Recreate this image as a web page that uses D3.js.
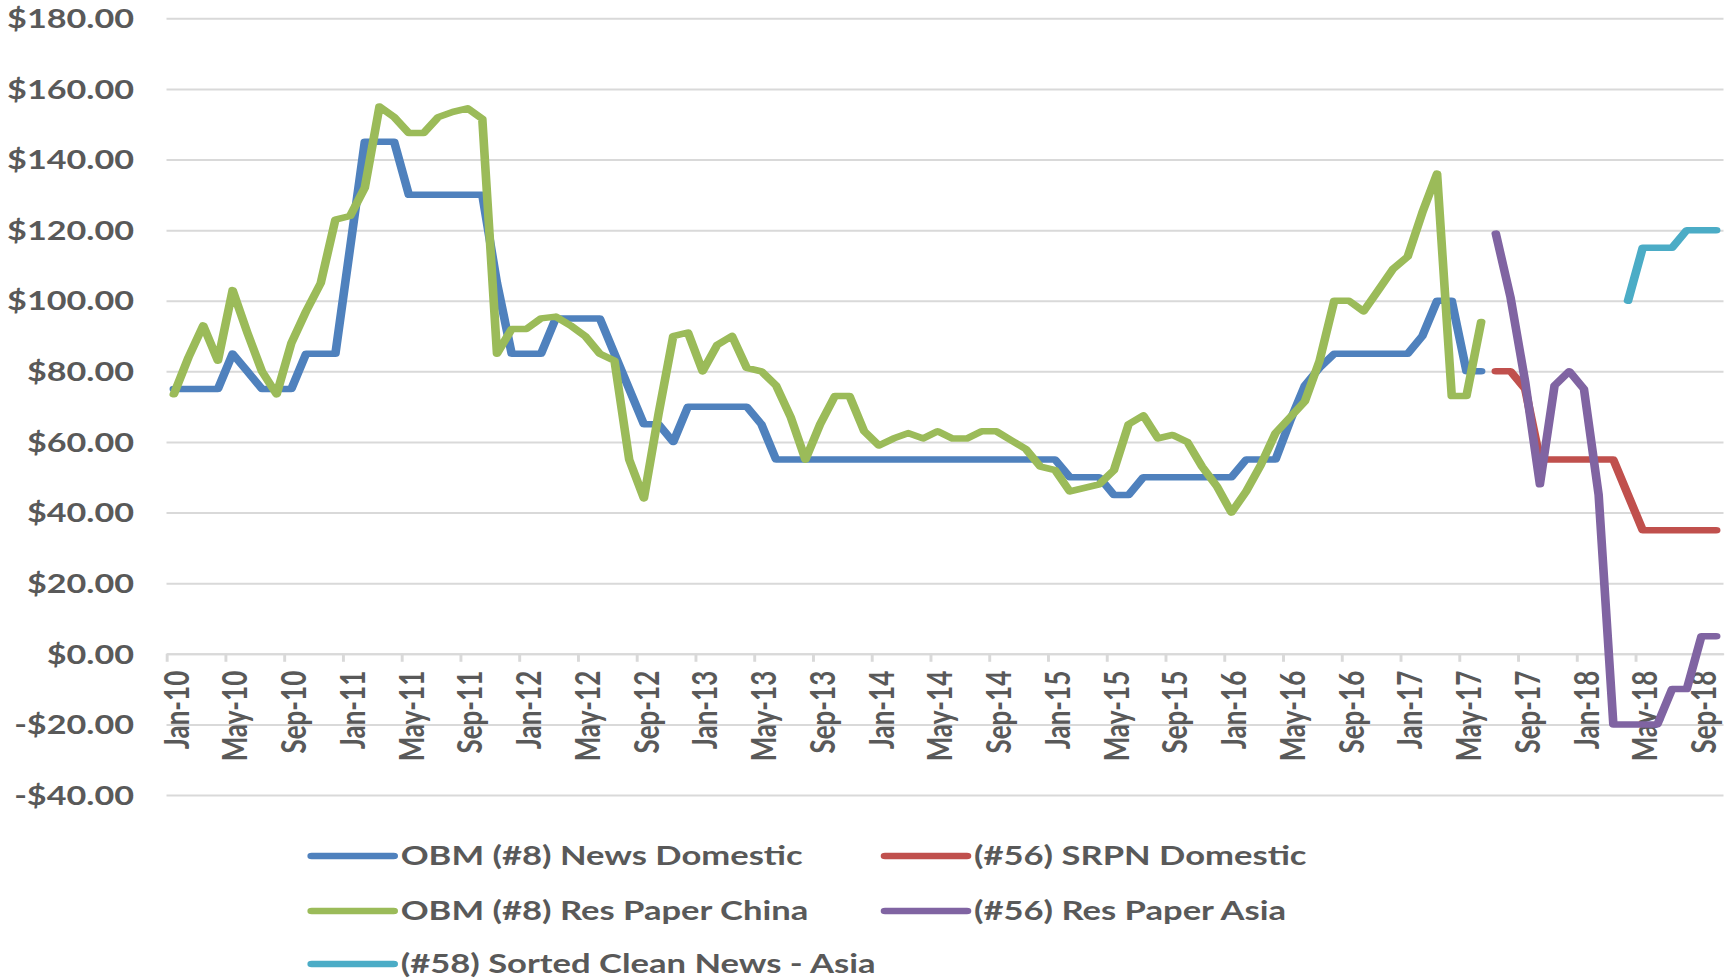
<!DOCTYPE html>
<html><head><meta charset="utf-8">
<script src="https://cdn.jsdelivr.net/npm/d3@7"></script>
<style>body{margin:0;background:#fff;} svg{display:block}</style>
</head><body>
<svg id="chart" width="1733" height="979"></svg>
<script>
// ---------- DATA ----------
const firstMonth = new Date(2010, 0, 1);
const axisEnd = new Date(2018, 10, 1);            // axis runs to Nov-18
const months = d3.timeMonth.range(firstMonth, axisEnd).map(d3.timeFormat("%b-%y"));

const tickLabels = ["Jan-10","May-10","Sep-10","Jan-11","May-11","Sep-11","Jan-12","May-12","Sep-12",
  "Jan-13","May-13","Sep-13","Jan-14","May-14","Sep-14","Jan-15","May-15","Sep-15",
  "Jan-16","May-16","Sep-16","Jan-17","May-17","Sep-17","Jan-18","May-18","Sep-18"];
const yTickValues = [180,160,140,120,100,80,60,40,20,0,-20,-40];

// OBM (#8) News Domestic, Jan-10 .. Jun-17
const obmNewsDomestic = [75,75,75,75,85,80,75,75,75,85,85,85,115,145,145,145,130,130,130,130,130,130,105,85,
  85,85,95,95,95,95,85,75,65,65,60,70,70,70,70,70,65,55,55,55,55,55,55,55,
  55,55,55,55,55,55,55,55,55,55,55,55,55,50,50,50,45,45,50,50,50,50,50,50,
  50,55,55,55,66,76,81,85,85,85,85,85,85,90,100,100,80,80];
// OBM (#8) Res Paper China, Jan-10 .. Jun-17
const obmResPaperChina = [73.5,84,93,83,103,91,80,73.5,88,97,105,123,124,132,155,152,147.5,147.5,152,153.5,154.5,151.5,85,92,
  92,95,95.5,93,90,85,83,55,44,68,90,91,80,87.5,90,81,80,76,67,55,65,73,73,63,
  59,61,62.5,61,63,61,61,63,63,60.5,58,53,52,46,47,48,52,65,67.5,61,62,60,53,47.5,
  40,46,53.5,62.5,67,71.5,83,100,100,97,103,109,112.5,125,136,73,73,94];
// (#56) SRPN Domestic, Jul-17 .. Oct-18
const srpnDomestic = [80,80,75,55,55,55,55,55,55,45,35,35,35,35,35,35];
// (#56) Res Paper Asia, Jul-17 .. Oct-18
const resPaperAsia = [119,101,77,48,76,80,75,45,-20,-20,-20,-20,-10,-10,5,5];
// (#58) Sorted Clean News - Asia, Apr-18 .. Oct-18
const sortedCleanNewsAsia = [100,115,115,115,120,120,120];

const seriesNames = ["OBM (#8) News Domestic","(#56) SRPN Domestic","OBM (#8) Res Paper China","(#56) Res Paper Asia","(#58) Sorted Clean News - Asia"];
const seriesStart = ["Jan-10","Jul-17","Jan-10","Jul-17","Apr-18"];
const seriesValues = [obmNewsDomestic, srpnDomestic, obmResPaperChina, resPaperAsia, sortedCleanNewsAsia];
const seriesColors = ["#4F81BD","#C0504D","#9BBB59","#8064A2","#4BACC6"];
const drawOrder = [0,2,1,3,4];

// ---------- LAYOUT ----------
const SX = 1.33;                 // horizontal stretch of the original picture
const L = 166.5 / SX, R = 1723.5 / SX;
const FONT = "Lato, 'DejaVu Sans', sans-serif";
const TXT = "#595959", GRID = "#D9D9D9";

const svg = d3.select("#chart");
const g = svg.append("g").attr("transform", `scale(${SX},1)`);

const x = d3.scaleLinear().domain([0, months.length]).range([L, R]);
const y = d3.scaleLinear().domain([-40, 180]).range([795, 18.3]);

// gridlines
g.append("g").attr("transform", `translate(${L},0)`)
  .call(d3.axisLeft(y).tickValues(yTickValues).tickSize(-(R - L)).tickFormat(""))
  .call(a => a.select(".domain").remove())
  .call(a => a.selectAll("line").attr("stroke", GRID).attr("stroke-width", 2));

// y labels
const fmt = v => (v < 0 ? "-$" : "$") + Math.abs(v).toFixed(2);
g.append("g").attr("transform", `translate(${L},0)`)
  .call(d3.axisLeft(y).tickValues(yTickValues).tickSize(0).tickPadding(24.4).tickFormat(fmt))
  .call(a => a.select(".domain").remove())
  .call(a => a.selectAll("text").attr("fill", TXT).attr("font-family", FONT)
      .attr("font-weight", "bold").attr("font-size", 25.7).attr("dy", "0.36em"));

// x axis at zero
const tickIdx = tickLabels.map(t => months.indexOf(t));
const xAxis = g.append("g").attr("transform", `translate(0,${y(0)})`)
  .call(d3.axisBottom(x).tickValues(tickIdx).tickSize(8).tickSizeOuter(0)
      .tickFormat((d, i) => tickLabels[i]));
xAxis.select(".domain").attr("stroke", GRID).attr("stroke-width", 2);
xAxis.selectAll(".tick line").attr("stroke", GRID).attr("stroke-width", 2.2);
xAxis.selectAll(".tick text")
  .attr("fill", TXT).attr("font-family", FONT).attr("font-weight", "bold").attr("font-size", 26)
  .attr("text-anchor", "end")
  .attr("transform", "rotate(-90)")
  .attr("x", -17).attr("y", 9 / SX).attr("dy", "0.36em");

// lines
const line = d3.line().defined(d => d.v != null).x(d => x(d.i + 0.5)).y(d => y(d.v));
drawOrder.forEach(k => {
  const s0 = months.indexOf(seriesStart[k]);
  const pts = seriesValues[k].map((v, j) => ({ i: s0 + j, v }));
  g.append("path").datum(pts).attr("d", line)
    .attr("fill", "none").attr("stroke", seriesColors[k]).attr("stroke-width", 6.5)
    .attr("stroke-linejoin", "round").attr("stroke-linecap", "round");
});

// legend
const legCols = [311.7 / SX, 885 / SX];
const legRows = [856, 911, 964];
seriesNames.forEach((name, k) => {
  const cx = legCols[k % 2], cy = legRows[Math.floor(k / 2)];
  const lg = g.append("g");
  lg.append("line").attr("x1", cx).attr("x2", cx + 82 / SX).attr("y1", cy).attr("y2", cy)
    .attr("stroke", seriesColors[k]).attr("stroke-width", 6.5).attr("stroke-linecap", "round");
  lg.append("text").attr("x", cx + 89 / SX).attr("y", cy).attr("dy", "0.36em")
    .attr("fill", TXT).attr("font-family", FONT).attr("font-weight", "bold").attr("font-size", 26)
    .text(name);
});
</script>
</body></html>
